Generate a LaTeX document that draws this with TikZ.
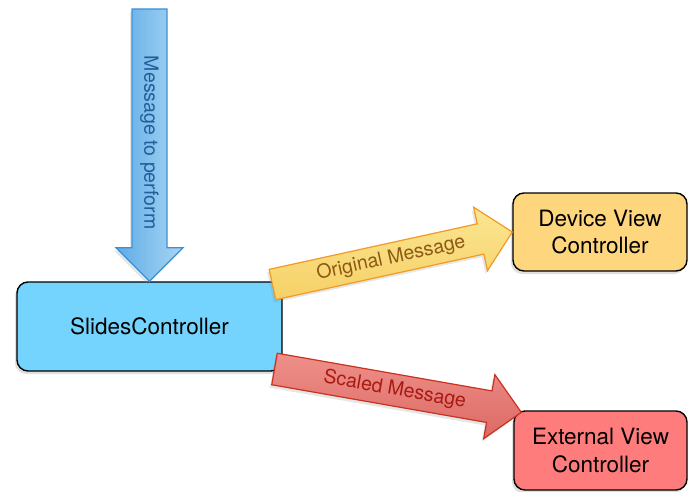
\documentclass[tikz,border=0pt]{standalone}
\usepackage{fontspec}
\setmainfont{TeX Gyre Heros}
\usetikzlibrary{calc,shadows}
\definecolor{scfill}{RGB}{117,212,253}
\definecolor{dvfill}{RGB}{253,214,126}
\definecolor{evfill}{RGB}{255,124,124}
\definecolor{bluedark}{RGB}{94,172,230}
\definecolor{bluelight}{RGB}{169,213,244}
\definecolor{blueline}{RGB}{60,145,214}
\definecolor{bluetext}{RGB}{35,94,155}
\definecolor{yellight}{RGB}{251,230,146}
\definecolor{yeldark}{RGB}{246,208,102}
\definecolor{yelline}{RGB}{242,154,34}
\definecolor{yeltext}{RGB}{140,90,20}
\definecolor{redlight}{RGB}{239,144,138}
\definecolor{reddark}{RGB}{220,105,100}
\definecolor{redline}{RGB}{200,50,30}
\definecolor{redtext}{RGB}{168,26,18}
\newcommand\myblockarrow[7]{%
  \coordinate (hb) at ($(#3)!#5!(#2)$);
  \draw[#1] ($(#2)!#4!90:(#3)$) -- ($(hb)!#4!90:(#3)$) -- ($(hb)!#5!90:(#3)$) -- (#3)
    -- ($(hb)!#5!-90:(#3)$) -- ($(hb)!#4!-90:(#3)$) -- ($(#2)!#4!-90:(#3)$) -- cycle;
  \path (#2) -- (hb) node[#6] {#7};
}
\tikzset{
  box/.style={draw=black, line width=1.4pt, rounded corners=11pt, align=center,
    font=\fontsize{22.5}{28}\selectfont, inner sep=0pt,
    drop shadow={shadow xshift=-2pt, shadow yshift=-3pt, opacity=0.25}},
  barrow/.style={line width=1.2pt, line join=miter,
    drop shadow={shadow xshift=-2pt, shadow yshift=-3pt, opacity=0.2}},
  alabel/.style={font=\fontsize{19.5}{23}\selectfont, inner sep=0pt}
}
\begin{document}
\begin{tikzpicture}[x=1pt,y=1pt]
\useasboundingbox (0,0) rectangle (688,-492);
\node[box, fill=scfill, minimum width=265pt, minimum height=89pt] (sc) at (149.5,-326.5) {SlidesController};
\node[box, fill=dvfill, minimum width=174pt, minimum height=78pt] (dvc) at (600,-232) {Device View\\Controller};
\node[box, fill=evfill, minimum width=173pt, minimum height=79pt] (evc) at (600.5,-450.5) {External View\\Controller};
\coordinate (bstart) at (149.5,-9);
\coordinate (ystart) at (272.5,-284.5);
\coordinate (rstart) at (274.5,-369);
\coordinate (rtip) at ($(evc.north west)+(8,-2)$);
\myblockarrow{barrow, draw=blueline, left color=bluedark, right color=bluelight}{bstart}{sc.north}{17.5pt}{33.5pt}{pos=0.56, rotate=-90, alabel, text=bluetext}{Message to perform}
\myblockarrow{barrow, draw=yelline, top color=yellight, bottom color=yeldark}{ystart}{dvc.west}{15.5pt}{32.5pt}{pos=0.57, sloped, alabel, text=yeltext}{Original Message}
\myblockarrow{barrow, draw=redline, top color=redlight, bottom color=reddark}{rstart}{rtip}{16pt}{32.5pt}{pos=0.56, sloped, alabel, text=redtext}{Scaled Message}
\end{tikzpicture}
\end{document}
